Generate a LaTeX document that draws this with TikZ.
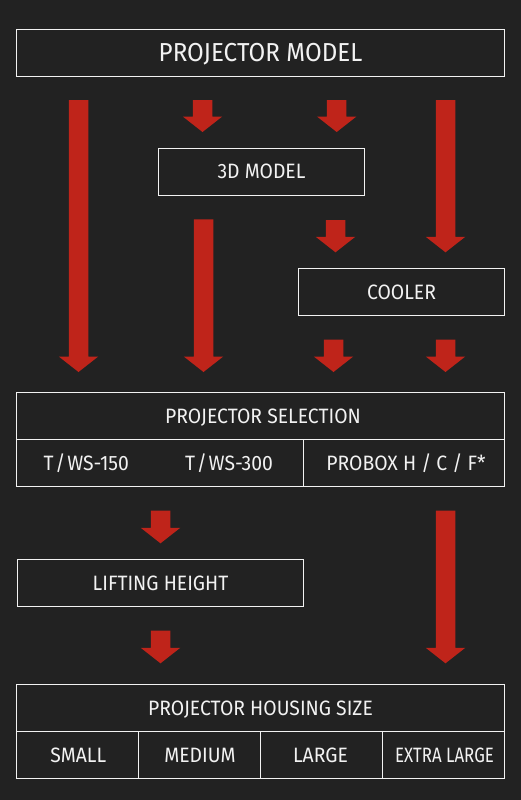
\documentclass[tikz,border=0pt]{standalone}
\usepackage{fontspec}
\usepackage{graphicx}
\setmainfont{Fira Sans}[FakeStretch=0.93]
\usetikzlibrary{calc}
\definecolor{bgcol}{HTML}{222222}
\definecolor{arrowred}{HTML}{BF241A}
\definecolor{fgcol}{HTML}{F2F2F2}
% block arrow from named coordinate #1 (top of shaft) to #2 (tip)
\newcommand\blockarrow[2]{%
  \fill[arrowred] let \p1=(#1), \p2=(#2) in
    (\x1-9.75bp,\y1) -- (\x1+9.75bp,\y1) -- (\x1+9.75bp,\y2+15.5bp) --
    (\x1+19.75bp,\y2+15.5bp) -- (\x1,\y2) -- (\x1-19.75bp,\y2+15.5bp) --
    (\x1-9.75bp,\y2+15.5bp) -- cycle;}
\newcommand\slsh{\kern1.8bp/\kern1.8bp}
\begin{document}
\begin{tikzpicture}[x=1bp,y=-1bp,
  normalfont/.style={font=\fontsize{20.8bp}{22bp}\selectfont, text height=14.3bp, text depth=0pt},
  box/.style={draw=fgcol, line width=1bp, inner sep=0pt, text=fgcol, normalfont},
  lbl/.style={inner sep=0pt, text=fgcol, normalfont},
  divider/.style={draw=fgcol, line width=1bp}]
\fill[bgcol] (0,0) rectangle (521,800);
\useasboundingbox (0,0) rectangle (521,800);

% boxes
\node[box, minimum width=488.4bp, minimum height=47bp,
      font=\fontsize{26bp}{28bp}\selectfont, text height=17.9bp] (pm) at (260.5,52.8) {PROJECTOR MODEL};
\node[box, minimum width=206.4bp, minimum height=47bp] (td) at (261.5,171.8) {3D MODEL};
\node[box, minimum width=206.4bp, minimum height=47.4bp] (cool) at (401.5,292) {COOLER};

% projector selection
\node[box, minimum width=488.4bp, minimum height=94bp] (sel) at (260.5,439.3) {};
\draw[divider] (sel.west) -- (sel.east);
\draw[divider] (303.3,439.3) -- (303.3,486.3);
\node[lbl] (selt) at (263,416) {PROJECTOR SELECTION};
\node[lbl] (ws150) at (86.3,463) {T\slsh WS-150};
\node[lbl] (ws300) at (229,463) {T\slsh WS-300};
\node[lbl] (probox) at (406,463) {PROBOX H / C / F*};

% lifting height
\node[box, minimum width=286.4bp, minimum height=47.4bp] (lift) at (160.5,583) {LIFTING HEIGHT};

% housing size
\node[box, minimum width=488.4bp, minimum height=94bp] (hs) at (260.5,731.3) {};
\draw[divider] (hs.west) -- (hs.east);
\draw[divider] (138.4,731.3) -- (138.4,778.3);
\draw[divider] (260.5,731.3) -- (260.5,778.3);
\draw[divider] (382.6,731.3) -- (382.6,778.3);
\node[lbl] (hst) at (260.5,708) {PROJECTOR HOUSING SIZE};
\node[lbl] (small) at (78.3,755) {SMALL};
\node[lbl] (medium) at (200,755) {MEDIUM};
\node[lbl] (large) at (320.5,755) {LARGE};
\node[lbl] (xlarge) at (444.5,755) {\scalebox{0.87}[1]{EXTRA LARGE}};

% arrow end points
\coordinate (a1s) at (78.5,100);   \coordinate (a1e) at (78.5,372);
\coordinate (a2s) at (202.5,100);  \coordinate (a2e) at (202.5,132);
\coordinate (a3s) at (336.7,100);  \coordinate (a3e) at (336.7,132);
\coordinate (a4s) at (445.5,100);  \coordinate (a4e) at (445.5,252.3);
\coordinate (a5s) at (203.5,219.3);\coordinate (a5e) at (203.5,372);
\coordinate (a6s) at (335.5,220);  \coordinate (a6e) at (335.5,252.3);
\coordinate (a7s) at (333.5,339.7);\coordinate (a7e) at (333.5,372);
\coordinate (a8s) at (445.5,339.7);\coordinate (a8e) at (445.5,372);
\coordinate (a9s) at (160.5,510.7);\coordinate (a9e) at (160.5,543.3);
\coordinate (a10s) at (445.5,510.7);\coordinate (a10e) at (445.5,663.3);
\coordinate (a11s) at (160.5,630.7);\coordinate (a11e) at (160.5,663.3);

\blockarrow{a1s}{a1e}
\blockarrow{a2s}{a2e}
\blockarrow{a3s}{a3e}
\blockarrow{a4s}{a4e}
\blockarrow{a5s}{a5e}
\blockarrow{a6s}{a6e}
\blockarrow{a7s}{a7e}
\blockarrow{a8s}{a8e}
\blockarrow{a9s}{a9e}
\blockarrow{a10s}{a10e}
\blockarrow{a11s}{a11e}
\end{tikzpicture}
\end{document}
